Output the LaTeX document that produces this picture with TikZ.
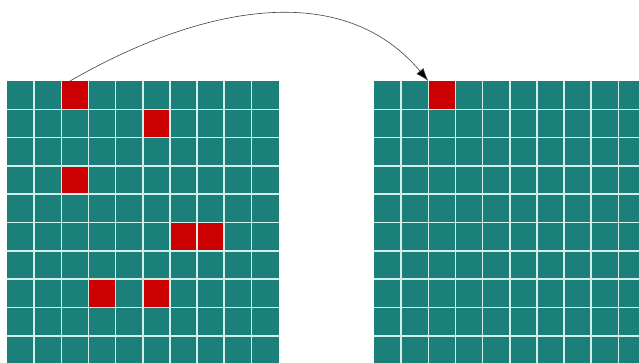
\documentclass[tikz,border=0pt]{standalone}
\usepackage{tikz}
\usetikzlibrary{arrows.meta, positioning}
\definecolor{boardteal}{RGB}{27,128,122}
\definecolor{cellred}{RGB}{204,0,0}
\definecolor{gridwhite}{RGB}{210,238,235}

\begin{document}
\begin{tikzpicture}[
        x=0.5mm, y=-0.5mm,
        board/.style={fill=boardteal},
        cell/.style={rectangle, fill=cellred, inner sep=0pt, minimum width=13.575mm, minimum height=14.15mm, anchor=north west},
        gridlines/.style={draw=gridwhite, line width=0.8mm},
        line/.style={draw=black!75, -{Latex[length=6.5mm, width=4.6mm, fill=black]}, line width=0.3mm}
    ]
        \useasboundingbox (0,0) rectangle (639,362);
        \clip (0,0) rectangle (639,362);

        % Left board, several marked cells
        \begin{scope}[shift={(7,81)}]
            \fill [board] (0,0) rectangle (271.5,283);
            \node [cell] (pick) at (54.3,0) {};
            \node [cell] (markB) at (135.75,28.3) {};
            \node [cell] (markC) at (54.3,84.9) {};
            \node [cell] (markD) at (162.9,141.5) {};
            \node [cell] (markE) at (190.05,141.5) {};
            \node [cell] (markF) at (81.45,198.1) {};
            \node [cell] (markG) at (135.75,198.1) {};
            \foreach \i in {1,...,9} {
                \draw [gridlines] (\i*27.15,0) -- (\i*27.15,283);
                \draw [gridlines] (0,\i*28.3) -- (271.5,\i*28.3);
            }
        \end{scope}

        % Right board, one marked cell
        \begin{scope}[shift={(374,81)}]
            \fill [board] (0,0) rectangle (271.5,283);
            \node [cell] (slot) at (54.3,0) {};
            \foreach \i in {1,...,10} {
                \draw [gridlines] (\i*27.15,0) -- (\i*27.15,283);
                \draw [gridlines] (0,\i*28.3) -- (271.5,\i*28.3);
            }
        \end{scope}

        % Edge
        \path [line] ([xshift=-2.5mm]pick.north) to[out=30, in=130] (slot.north west);
\end{tikzpicture}
\end{document}
